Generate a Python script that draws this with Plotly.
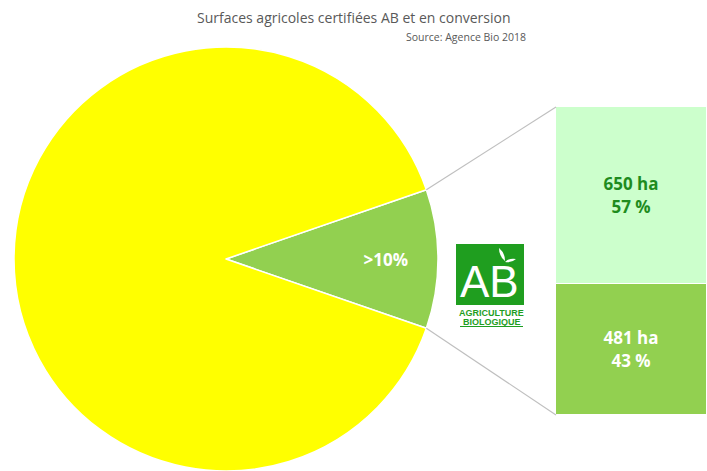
import math
import plotly.graph_objects as go

# données
parts_pie = ["AB et conversion", "Autres surfaces"]
valeurs_pie = [10.6, 89.4]
textes_pie = ["<b>>10%</b>", ""]
couleurs_pie = ["#92D050", "#FFFF00"]

categories_bio = ["En conversion", "Certifiées AB"]
surfaces_ha = [481, 650]
parts_pct = [43, 57]
couleurs_bio = ["#92D050", "#CCFFCC"]
couleurs_texte = ["white", "#1E8C1E"]

W, H = 707, 471


def px_x(x):
    return x / W


def px_y(y):
    return 1 - y / H


# géométrie du camembert (pixels)
pie_x0, pie_x1 = 14, 438
pie_dom_y = [0, (pie_x1 - pie_x0) / H]
rayon = (pie_x1 - pie_x0) / 2
cx = (pie_x0 + pie_x1) / 2
cy = H - rayon

demi_angle = valeurs_pie[0] / sum(valeurs_pie) * 360 / 2

bar_x0 = 556
bar_dom_y = [px_y(415), px_y(107)]

fig = go.Figure()
fig.add_trace(go.Pie(
    labels=parts_pie,
    values=valeurs_pie,
    text=textes_pie,
    textinfo="text",
    textposition="inside",
    insidetextorientation="horizontal",
    textfont=dict(family="Open Sans", size=17, color="white"),
    marker=dict(colors=couleurs_pie, line=dict(color="white", width=1.5)),
    sort=False,
    direction="clockwise",
    rotation=90 - demi_angle,
    domain=dict(x=[px_x(pie_x0), px_x(pie_x1)], y=pie_dom_y),
))

for cat, val, pct, coul, ct in zip(categories_bio, surfaces_ha, parts_pct, couleurs_bio, couleurs_texte):
    fig.add_trace(go.Bar(
        x=[0], y=[val], name=cat,
        marker=dict(color=coul, line=dict(color="white", width=1)),
        text=[f"<b>{val} ha<br>{pct} %</b>"],
        textposition="inside", insidetextanchor="middle",
        textfont=dict(family="Open Sans", size=17, color=ct),
        width=1,
        xaxis="x2", yaxis="y2",
    ))

# lignes de liaison
total = sum(surfaces_ha)
formes = []
for signe, yb in [(1, bar_dom_y[1]), (-1, bar_dom_y[0])]:
    ex = cx + rayon * math.cos(math.radians(demi_angle))
    ey = cy - signe * rayon * math.sin(math.radians(demi_angle))
    formes.append(dict(type="line", xref="paper", yref="paper",
                       x0=px_x(ex), y0=px_y(ey), x1=px_x(bar_x0), y1=yb,
                       line=dict(color="#BFBFBF", width=1.2)))

# logo AB
vert_logo = "#1F9E1F"
formes.append(dict(type="rect", xref="paper", yref="paper",
                   x0=px_x(456), x1=px_x(524), y0=px_y(305), y1=px_y(244),
                   fillcolor=vert_logo, line=dict(width=0), layer="above"))


def feuille(x0, y0, x1, y1, bombe):
    # petite feuille : deux courbes entre deux points
    mx, my = (x0 + x1) / 2, (y0 + y1) / 2
    nx, ny = -(y1 - y0), (x1 - x0)
    n = math.hypot(nx, ny)
    nx, ny = nx / n * bombe, ny / n * bombe
    pts = [(x0, y0), (mx + nx, my + ny), (x1, y1), (mx - nx, my - ny)]
    p = [(px_x(a), px_y(b)) for a, b in pts]
    return (f"M {p[0][0]},{p[0][1]} Q {p[1][0]},{p[1][1]} {p[2][0]},{p[2][1]} "
            f"Q {p[3][0]},{p[3][1]} {p[0][0]},{p[0][1]} Z")


for args in [(499, 248, 505, 261, 3.5), (505, 262, 516, 259, 3.0)]:
    formes.append(dict(type="path", xref="paper", yref="paper", path=feuille(*args),
                       fillcolor="white", line=dict(width=0), layer="above"))
formes.append(dict(type="line", xref="paper", yref="paper",
                   x0=px_x(460), x1=px_x(523), y0=px_y(326.5), y1=px_y(326.5),
                   line=dict(color=vert_logo, width=1)))

annotations = [
    dict(text="Surfaces agricoles certifiées AB et en conversion", x=0.5, y=px_y(18),
         xref="paper", yref="paper", showarrow=False, xanchor="center", yanchor="middle",
         font=dict(family="Open Sans", size=14, color="#595959")),
    dict(text="Source: Agence Bio 2018", x=px_x(528), y=px_y(37),
         xref="paper", yref="paper", showarrow=False, xanchor="right", yanchor="middle",
         font=dict(family="Open Sans", size=10.5, color="#595959")),
    dict(text="AB", x=px_x(490), y=px_y(281), xref="paper", yref="paper",
         showarrow=False, xanchor="center", yanchor="middle",
         font=dict(family="Liberation Sans", size=44, color="white")),
    dict(text="<b>AGRICULTURE</b>", x=px_x(491.5), y=px_y(313), xref="paper", yref="paper",
         showarrow=False, xanchor="center", yanchor="middle",
         font=dict(family="Liberation Sans", size=9, color=vert_logo)),
    dict(text="<b>BIOLOGIQUE</b>", x=px_x(491.5), y=px_y(321.5), xref="paper", yref="paper",
         showarrow=False, xanchor="center", yanchor="middle",
         font=dict(family="Liberation Sans", size=9, color=vert_logo)),
]

fig.update_layout(
    width=W, height=H,
    margin=dict(l=0, r=0, t=0, b=0),
    paper_bgcolor="white", plot_bgcolor="white",
    showlegend=False,
    barmode="stack", bargap=0,
    xaxis2=dict(domain=[px_x(bar_x0), 1], range=[-0.5, 0.5], visible=False, fixedrange=True),
    yaxis2=dict(domain=bar_dom_y, range=[0, total], visible=False, anchor="x2"),
    shapes=formes,
    annotations=annotations,
)

fig.write_html("out.html", config={"displayModeBar": False},
               post_script="document.body.style.margin='0px';")
